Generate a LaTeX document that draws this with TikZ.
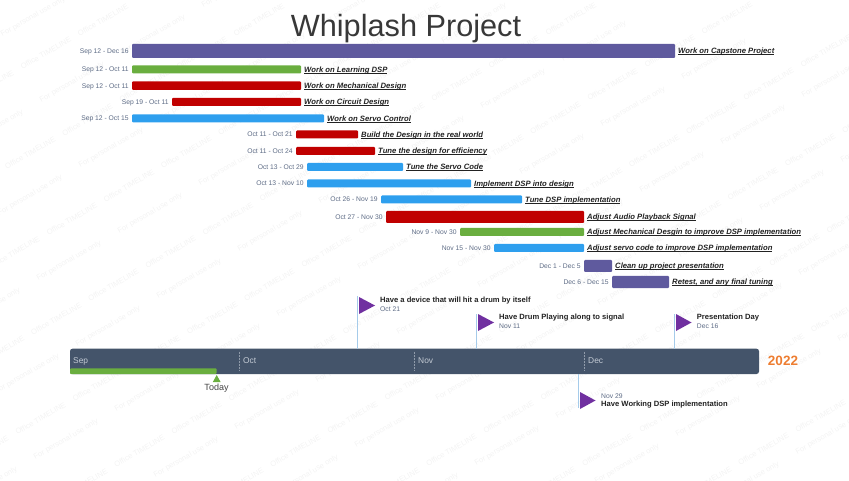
\documentclass[tikz,border=0pt]{standalone}
\usepackage{fontspec}
\setmainfont{Liberation Sans}
\definecolor{cpurple}{HTML}{5F5A9E}
\definecolor{cgreen}{HTML}{6AAE3F}
\definecolor{cred}{HTML}{C00000}
\definecolor{cblue}{HTML}{2E9FEE}
\definecolor{caxis}{HTML}{44546A}
\definecolor{corange}{HTML}{ED7D31}
\definecolor{cflag}{HTML}{7030A0}
\definecolor{cpole}{HTML}{A5CBEA}
\definecolor{cdate}{HTML}{5D6B85}
\definecolor{cmark}{HTML}{F3F3F3}
\definecolor{cmonth}{HTML}{C3CAD4}
\definecolor{ctext}{HTML}{222222}
\newcommand{\ulabel}[1]{\setbox0\hbox{#1}\rlap{\rule[-1.1pt]{\wd0}{0.55pt}}\box0 }
\tikzset{
  barbox/.style={rectangle,inner sep=0pt,outer sep=0pt,rounded corners=1pt,anchor=north west},
  datelabel/.style={inner sep=0pt,anchor=east,text=cdate,font=\fontsize{6.75}{7}\selectfont,text height=5.5pt,text depth=0.5pt},
  tasklabel/.style={inner sep=0pt,anchor=west,text=ctext,font=\fontsize{7.7}{8}\selectfont\bfseries\itshape,text height=6.9pt,text depth=1.5pt},
  msname/.style={inner sep=0pt,anchor=west,text=ctext,font=\fontsize{7.6}{8}\selectfont\bfseries},
  msdate/.style={inner sep=0pt,anchor=west,text=cdate,font=\fontsize{6.75}{7}\selectfont},
  polestyle/.style={draw=cpole,line width=0.9pt},
  flagstyle/.style={fill=cflag},
  monthlabel/.style={inner sep=0pt,anchor=west,text=cmonth,font=\fontsize{8.4}{9}\selectfont},
  monthline/.style={draw=cmonth!60!caxis,line width=0.5pt,densely dotted},
  wmark/.style={inner sep=0pt,rotate=30,text=cmark,font=\fontsize{7.6}{9}\selectfont},
}
\newcommand{\ganttrow}[8]{%
  \pgfmathsetmacro{\rowW}{#3-#2}\pgfmathsetmacro{\rowH}{#5-#4}%
  \node[barbox,fill=#6,minimum width=\rowW pt,minimum height=\rowH pt] (#1) at (#2,#4) {};
  \node[datelabel] (#1d) at ([xshift=-3.2pt]#1.west) {#7};
  \node[tasklabel] (#1t) at ([xshift=3pt]#1.east) {\ulabel{#8}};
}
\begin{document}
\begin{tikzpicture}[x=1pt,y=-1pt]
\useasboundingbox (0,0) rectangle (849,481);
\begin{scope}
\clip (0,0) rectangle (849,481);
\foreach \i in {-1,...,10}{\foreach \j in {0,...,14}{
  \pgfmathsetmacro{\wx}{103+156*\i-57.2*\j}
  \pgfmathsetmacro{\wy}{20-0.5*\i+33.2*\j}
  \pgfmathsetmacro{\wxb}{\wx+156*floor(\j*57.2/156)}
  \node[wmark] (wo-\i-\j) at (\wxb,\wy) {Office TIMELINE};
}}
\foreach \i in {-4,...,8}{\foreach \j in {-1,...,8}{
  \pgfmathsetmacro{\wx}{33+120*\i+39*\j}
  \pgfmathsetmacro{\wy}{17+18*\i+65.5*\j}
  \node[wmark] (wp-\i-\j) at (\wx,\wy) {For personal use only};
}}
\end{scope}
\node[inner sep=0pt,text=ctext!90,font=\fontsize{30.7}{32}\selectfont] (title) at (406,28.5) {Whiplash Project};
\ganttrow{b1}{132}{675}{44}{58}{cpurple}{Sep 12 - Dec 16}{Work on Capstone Project}
\ganttrow{b2}{132}{301}{65.5}{73.5}{cgreen}{Sep 12 - Oct 11}{Work on Learning DSP}
\ganttrow{b3}{132}{301}{81.5}{90}{cred}{Sep 12 - Oct 11}{Work on Mechanical Design}
\ganttrow{b4}{172}{301}{98}{106}{cred}{Sep 19 - Oct 11}{Work on Circuit Design}
\ganttrow{b5}{132}{324}{114.5}{122.5}{cblue}{Sep 12 - Oct 15}{Work on Servo Control}
\ganttrow{b6}{296}{358}{130.5}{138.5}{cred}{Oct 11 - Oct 21}{Build the Design in the real world}
\ganttrow{b7}{296}{375}{147}{155}{cred}{Oct 11 - Oct 24}{Tune the design for efficiency}
\ganttrow{b8}{307}{403}{163}{171}{cblue}{Oct 13 - Oct 29}{Tune the Servo Code}
\ganttrow{b9}{307}{471}{179.5}{187.5}{cblue}{Oct 13 - Nov 10}{Implement DSP into design}
\ganttrow{b10}{381}{522}{195.5}{203.5}{cblue}{Oct 26 - Nov 19}{Tune DSP implementation}
\ganttrow{b11}{386}{584}{211}{223}{cred}{Oct 27 - Nov 30}{Adjust Audio Playback Signal}
\ganttrow{b12}{460}{584}{228}{236}{cgreen}{Nov 9 - Nov 30}{Adjust Mechanical Desgin to improve DSP implementation}
\ganttrow{b13}{494}{584}{244}{252}{cblue}{Nov 15 - Nov 30}{Adjust servo code to improve DSP implementation}
\ganttrow{b14}{584}{612}{260}{272}{cpurple}{Dec 1 - Dec 5}{Clean up project presentation}
\ganttrow{b15}{612}{669}{276}{288}{cpurple}{Dec 6 - Dec 15}{Retest, and any final tuning}
% timeline
\node[barbox,fill=caxis,rounded corners=2.5pt,minimum width=689pt,minimum height=25.3pt] (axis) at (70,348.7) {};
\node[barbox,fill=cgreen,minimum width=146.7pt,minimum height=5.7pt] (progress) at (70,368.3) {};
\coordinate (d1) at (239.3,351.7); \coordinate (d2) at (414,351.7); \coordinate (d3) at (584,351.7);
\foreach \d in {d1,d2,d3}{\draw[monthline] (\d) -- ++(0,19.5);}
\node[monthlabel] (msep) at (73,361) {Sep};
\node[monthlabel] (moct) at (243,361) {Oct};
\node[monthlabel] (mnov) at (418,361) {Nov};
\node[monthlabel] (mdec) at (588,361) {Dec};
\node[inner sep=0pt,text=corange,font=\fontsize{13.5}{14}\selectfont\bfseries] (year) at (783,361) {2022};
\coordinate (tip) at (216.7,375);
\fill[cgreen] (tip) -- ++(4,7.2) -- ++(-8,0) -- cycle;
\node[inner sep=0pt,text=ctext!85,font=\fontsize{9}{10}\selectfont] (today) at (216.5,388) {Today};
% milestones
\coordinate (f1) at (357.7,296);
\coordinate (f2) at (476.7,314);
\coordinate (f3) at (674.3,314);
\coordinate (f4) at (578.3,408);
\draw[polestyle] (f1) -- (f1 |- axis.north);
\draw[polestyle] (f2) -- (f2 |- axis.north);
\draw[polestyle] (f3) -- (f3 |- axis.north);
\draw[polestyle] (f4) -- (f4 |- axis.south);
\fill[flagstyle] (359,297) -- (375,305.5) -- (359,314) -- cycle;
\fill[flagstyle] (478,314) -- (494,322.5) -- (478,331) -- cycle;
\fill[flagstyle] (676,314) -- (691.5,322.5) -- (676,331) -- cycle;
\fill[flagstyle] (580,392) -- (595.5,400.5) -- (580,409) -- cycle;
\node[msname] (m1) at (380,301) {Have a device that will hit a drum by itself};
\node[msdate] (m1d) at (380,309.5) {Oct 21};
\node[msname] (m2) at (499,318) {Have Drum Playing along to signal};
\node[msdate] (m2d) at (499,326.5) {Nov 11};
\node[msname] (m3) at (696.7,318) {Presentation Day};
\node[msdate] (m3d) at (696.7,326.5) {Dec 16};
\node[msdate] (m4d) at (601,396) {Nov 29};
\node[msname] (m4) at (601,404.5) {Have Working DSP implementation};
\end{tikzpicture}
\end{document}
